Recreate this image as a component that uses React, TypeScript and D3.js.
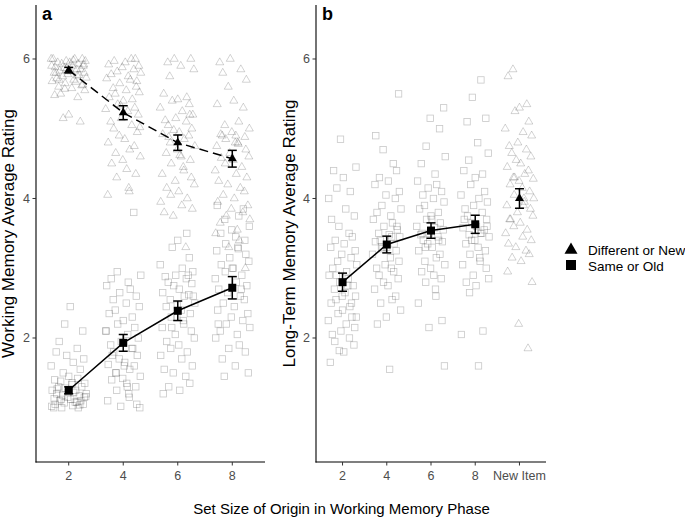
import React from 'react';
import * as d3 from 'd3';

const WM_CATS = ['2', '4', '6', '8'];
const LT_CATS = ['2', '4', '6', '8', 'New Item'];
const Y_TICKS = [2, 4, 6];

// jitter offsets (fraction of category step), hand typed
const JITTER = [0.12,-0.31,0.27,-0.05,0.33,-0.22,0.02,-0.14,0.19,-0.34,0.08,0.29,-0.27,-0.09,0.16,0.24,-0.18,0.04,-0.29,0.31,-0.02,0.21,-0.12,0.35,-0.24,0.1,-0.33,0.14,-0.07,0.26,-0.2,0.06,0.32,-0.16,-0.28,0.18,0.0,-0.11,0.23,-0.35,0.09,0.3,-0.04,-0.25,0.17,-0.19,0.28,-0.08,0.03,-0.3,0.22,0.13,-0.15,0.34,-0.01,-0.23,0.07,0.25,-0.13,0.11];

// Panel a: individual ratings
const WM_DIFF_2 = [6.0,6.0,6.0,5.97,5.97,5.95,5.95,5.93,5.93,5.9,5.9,5.9,5.88,5.87,5.85,5.85,5.83,5.82,5.8,5.8,5.78,5.77,5.75,5.73,5.72,5.7,5.68,5.67,5.65,5.62,5.6,5.58,5.55,5.5,5.48,5.45,5.2,5.15,5.1,6.0,5.98,5.92,5.86,5.8,5.76,5.7,5.63,5.57];
const WM_SAME_2 = [1.0,1.0,1.02,1.03,1.05,1.05,1.07,1.08,1.1,1.1,1.12,1.13,1.15,1.15,1.17,1.18,1.2,1.2,1.22,1.25,1.25,1.28,1.3,1.3,1.33,1.35,1.38,1.4,1.42,1.45,1.5,1.55,1.6,1.65,1.7,1.75,1.8,1.85,1.95,2.1,2.2,2.45,1.0,1.04,1.08,1.12,1.16,1.22,1.27,1.36];
const WM_DIFF_4 = [6.0,6.0,5.97,5.95,5.92,5.9,5.88,5.85,5.82,5.8,5.78,5.75,5.72,5.7,5.65,5.6,5.58,5.55,5.52,5.5,5.45,5.42,5.4,5.35,5.3,5.28,5.25,5.2,5.15,5.1,5.05,5.0,4.95,4.9,4.85,4.8,4.75,4.7,4.65,4.6,4.55,4.5,4.42,4.35,4.3,4.15,4.1,4.05,5.68,5.33,5.02];
const WM_SAME_4 = [3.8,2.95,2.9,2.85,2.8,2.75,2.7,2.65,2.6,2.55,2.5,2.45,2.4,2.35,2.3,2.25,2.2,2.15,2.1,2.05,2.0,1.95,1.9,1.85,1.8,1.75,1.7,1.65,1.62,1.6,1.55,1.5,1.45,1.42,1.4,1.35,1.3,1.25,1.2,1.15,1.1,1.05,1.02,1.0,1.75,1.6,1.5,1.85,2.1,1.3];
const WM_DIFF_6 = [6.0,6.0,5.95,5.9,5.85,5.75,5.5,5.45,5.42,5.4,5.35,5.3,5.25,5.2,5.15,5.12,5.1,5.05,5.0,4.98,4.95,4.92,4.9,4.85,4.8,4.75,4.7,4.65,4.6,4.55,4.5,4.45,4.4,4.35,4.3,4.25,4.2,4.15,4.1,4.05,4.0,3.95,3.9,3.85,3.8,3.75,3.3,5.2,4.88,4.62];
const WM_SAME_6 = [3.5,3.4,3.3,3.15,3.05,3.0,2.95,2.9,2.88,2.85,2.8,2.78,2.75,2.7,2.65,2.62,2.6,2.55,2.5,2.47,2.45,2.4,2.35,2.3,2.25,2.2,2.15,2.1,2.05,2.0,1.95,1.9,1.85,1.8,1.75,1.7,1.6,1.55,1.5,1.45,1.35,1.3,1.25,1.2,2.6,2.3,2.9,2.15];
const WM_DIFF_8 = [6.0,5.95,5.85,5.8,5.7,5.6,5.4,5.35,5.3,5.1,5.05,5.0,4.95,4.92,4.9,4.88,4.85,4.8,4.78,4.75,4.7,4.65,4.6,4.58,4.55,4.5,4.45,4.4,4.35,4.3,4.25,4.2,4.15,4.1,4.05,4.0,3.95,3.9,3.85,3.8,3.75,3.7,3.65,3.55,3.5,3.4,3.3,3.0,4.9,4.8];
const WM_SAME_8 = [3.9,3.85,3.75,3.7,3.6,3.55,3.5,3.45,3.4,3.35,3.3,3.28,3.25,3.2,3.15,3.1,3.05,3.0,2.95,2.9,2.85,2.8,2.75,2.7,2.65,2.6,2.55,2.5,2.45,2.4,2.35,2.3,2.25,2.2,2.15,2.1,2.05,2.0,1.9,1.85,1.8,1.7,1.6,1.5,1.45,2.2,2.7,3.0];

// Panel b: individual ratings
const LT_SAME_2 = [4.85,4.45,4.4,4.3,4.15,4.1,4.0,3.85,3.75,3.7,3.6,3.5,3.45,3.4,3.35,3.3,3.25,3.2,3.15,3.1,3.05,3.0,2.95,2.9,2.85,2.8,2.75,2.7,2.65,2.6,2.55,2.5,2.45,2.4,2.35,2.3,2.25,2.2,2.15,2.1,2.05,2.0,1.95,1.9,1.82,1.8,1.65,2.5,2.75,2.9,2.3,2.6];
const LT_SAME_4 = [5.5,4.9,4.7,4.5,4.4,4.3,4.25,4.2,4.1,4.05,4.0,3.9,3.85,3.8,3.75,3.7,3.65,3.6,3.55,3.5,3.48,3.45,3.4,3.38,3.35,3.3,3.28,3.25,3.2,3.15,3.1,3.05,3.0,2.95,2.9,2.85,2.8,2.75,2.7,2.6,2.55,2.5,2.4,2.3,2.2,1.55,3.6,3.3,3.0,3.45];
const LT_SAME_6 = [5.3,5.15,5.0,4.75,4.6,4.5,4.35,4.25,4.2,4.15,4.1,4.05,4.0,3.95,3.9,3.85,3.8,3.75,3.7,3.65,3.6,3.58,3.55,3.5,3.48,3.45,3.4,3.38,3.35,3.3,3.25,3.2,3.15,3.1,3.05,3.0,2.95,2.9,2.85,2.8,2.7,2.6,2.5,2.25,2.15,1.6,3.5,3.7,3.3,3.4];
const LT_SAME_8 = [5.7,5.45,5.15,5.1,4.8,4.65,4.55,4.4,4.35,4.3,4.2,4.1,4.05,4.0,3.95,3.9,3.85,3.8,3.75,3.7,3.65,3.6,3.58,3.55,3.5,3.48,3.45,3.4,3.35,3.3,3.25,3.2,3.15,3.1,3.05,3.0,2.9,2.85,2.8,2.75,2.65,2.1,2.05,1.6,3.6,3.7,3.4,3.5];
const LT_NEW = [5.85,5.75,5.35,5.3,5.25,5.1,5.0,4.95,4.9,4.8,4.75,4.7,4.65,4.6,4.55,4.5,4.45,4.4,4.35,4.3,4.28,4.25,4.2,4.15,4.1,4.05,4.0,3.95,3.9,3.85,3.8,3.75,3.7,3.65,3.6,3.55,3.5,3.45,3.4,3.35,3.3,3.25,3.2,3.15,3.1,2.95,2.8,2.2,1.85,4.3,4.0,3.7,3.9];

// Means and error bar half-widths
const WM_DIFF_MEAN = [5.84, 5.23, 4.80, 4.57];
const WM_DIFF_ERR = [0.04, 0.10, 0.11, 0.12];
const WM_SAME_MEAN = [1.25, 1.93, 2.39, 2.72];
const WM_SAME_ERR = [0.05, 0.12, 0.14, 0.16];
const LT_SAME_MEAN = [2.80, 3.34, 3.54, 3.63];
const LT_SAME_ERR = [0.13, 0.12, 0.11, 0.13];
const LT_NEW_MEAN = [4.0];
const LT_NEW_ERR = [0.14];

const LEGEND = ['Different or New', 'Same or Old'];

const FONT = "'Liberation Sans', Arial, Helvetica, sans-serif";

function triPath(cx: number, cy: number, w: number) {
  const h = w * 0.866;
  return `M${cx},${cy - (h * 2) / 3}L${cx - w / 2},${cy + h / 3}L${cx + w / 2},${cy + h / 3}Z`;
}

export default function App() {
  const y = d3.scaleLinear().domain([0.222, 6.774]).range([462, 5]);
  const xa = d3.scalePoint<string>().domain(WM_CATS).range([36, 265]).padding(0.6);
  const xb = d3.scalePoint<string>().domain(LT_CATS).range([316, 546]).padding(0.6);

  const scatter = [
    { x: xa, cat: '2', vals: WM_DIFF_2, shape: 'tri', seed: 0, jw: 0.92 },
    { x: xa, cat: '2', vals: WM_SAME_2, shape: 'sq', seed: 7, jw: 0.92 },
    { x: xa, cat: '4', vals: WM_DIFF_4, shape: 'tri', seed: 14, jw: 0.92 },
    { x: xa, cat: '4', vals: WM_SAME_4, shape: 'sq', seed: 21, jw: 0.92 },
    { x: xa, cat: '6', vals: WM_DIFF_6, shape: 'tri', seed: 28, jw: 0.92 },
    { x: xa, cat: '6', vals: WM_SAME_6, shape: 'sq', seed: 35, jw: 0.92 },
    { x: xa, cat: '8', vals: WM_DIFF_8, shape: 'tri', seed: 42, jw: 0.92 },
    { x: xa, cat: '8', vals: WM_SAME_8, shape: 'sq', seed: 49, jw: 0.92 },
    { x: xb, cat: '2', vals: LT_SAME_2, shape: 'sq', seed: 3, jw: 0.92 },
    { x: xb, cat: '4', vals: LT_SAME_4, shape: 'sq', seed: 11, jw: 0.92 },
    { x: xb, cat: '6', vals: LT_SAME_6, shape: 'sq', seed: 19, jw: 0.92 },
    { x: xb, cat: '8', vals: LT_SAME_8, shape: 'sq', seed: 27, jw: 0.92 },
    { x: xb, cat: 'New Item', vals: LT_NEW, shape: 'tri', seed: 33, jw: 0.92 },
  ];

  const summaries = [
    { x: xa, cats: WM_CATS, mean: WM_DIFF_MEAN, err: WM_DIFF_ERR, shape: 'tri', dash: '9,5' },
    { x: xa, cats: WM_CATS, mean: WM_SAME_MEAN, err: WM_SAME_ERR, shape: 'sq', dash: undefined },
    { x: xb, cats: LT_CATS.slice(0, 4), mean: LT_SAME_MEAN, err: LT_SAME_ERR, shape: 'sq', dash: undefined },
    { x: xb, cats: ['New Item'], mean: LT_NEW_MEAN, err: LT_NEW_ERR, shape: 'tri', dash: undefined },
  ];

  const panels = [
    { x: xa, cats: WM_CATS, left: 36, right: 265, label: 'a', title: 'Working Memory Average Rating', titleX: 14 },
    { x: xb, cats: LT_CATS, left: 316, right: 546, label: 'b', title: 'Long-Term Memory Average Rating', titleX: 295 },
  ];

  const yTop = y.range()[1];
  const yBot = y.range()[0];

  return (
    <svg width={685} height={517} style={{ position: 'absolute', left: 0, top: 0, background: '#fff' }} fontFamily={FONT}>
      <rect x={0} y={0} width={685} height={517} fill="#fff" />
      {/* scatter */}
      {scatter.map((g, gi) => {
        const step = g.x.step();
        const cx0 = g.x(g.cat) as number;
        return (
          <g key={gi} fill="none" stroke="#000" strokeOpacity={0.22} strokeWidth={0.8}>
            {g.vals.map((v, i) => {
              const cx = cx0 + JITTER[(i + g.seed) % JITTER.length] * step * g.jw;
              const cy = y(v);
              return g.shape === 'tri' ? (
                <path key={i} d={triPath(cx, cy, 8)} />
              ) : (
                <rect key={i} x={cx - 3.2} y={cy - 3.2} width={6.4} height={6.4} />
              );
            })}
          </g>
        );
      })}
      {/* summaries */}
      {summaries.map((s, si) => {
        const pts = s.cats.map((c, i) => [s.x(c) as number, y(s.mean[i])] as [number, number]);
        const line = d3.line();
        return (
          <g key={si}>
            {pts.length > 1 && (
              <path d={line(pts) || ''} fill="none" stroke="#000" strokeWidth={1.5} strokeDasharray={s.dash} />
            )}
            {s.cats.map((c, i) => {
              const cx = s.x(c) as number;
              const y1 = y(s.mean[i] + s.err[i]);
              const y2 = y(s.mean[i] - s.err[i]);
              return (
                <g key={c} stroke="#000" strokeWidth={1.5}>
                  <line x1={cx} x2={cx} y1={y1} y2={y2} />
                  <line x1={cx - 4.5} x2={cx + 4.5} y1={y1} y2={y1} />
                  <line x1={cx - 4.5} x2={cx + 4.5} y1={y2} y2={y2} />
                </g>
              );
            })}
            {pts.map((p, i) =>
              s.shape === 'tri' ? (
                <path key={i} d={triPath(p[0], p[1], 9)} fill="#000" />
              ) : (
                <rect key={i} x={p[0] - 4} y={p[1] - 4} width={8} height={8} fill="#000" />
              )
            )}
          </g>
        );
      })}
      {/* axes */}
      {panels.map((p) => (
        <g key={p.label}>
          <line x1={p.left} x2={p.left} y1={yTop} y2={yBot + 0.5} stroke="#000" strokeWidth={1.1} />
          <line x1={p.left - 0.5} x2={p.right} y1={yBot} y2={yBot} stroke="#000" strokeWidth={1.1} />
          {Y_TICKS.map((t) => (
            <g key={t}>
              <line x1={p.left - 3.5} x2={p.left} y1={y(t)} y2={y(t)} stroke="#333" strokeWidth={1} />
              <text x={p.left - 6} y={y(t)} dy="0.35em" textAnchor="end" fontSize={12.5} fill="#4d4d4d">
                {t}
              </text>
            </g>
          ))}
          {p.cats.map((c) => (
            <g key={c}>
              <line x1={p.x(c) as number} x2={p.x(c) as number} y1={yBot} y2={yBot + 3.5} stroke="#333" strokeWidth={1} />
              <text x={p.x(c) as number} y={480} textAnchor="middle" fontSize={12.5} fill="#4d4d4d">
                {c}
              </text>
            </g>
          ))}
          <text x={p.left + 6} y={20} fontSize={18} fontWeight="bold" fill="#000">
            {p.label}
          </text>
          <text
            transform={`translate(${p.titleX},${(yTop + yBot) / 2}) rotate(-90)`}
            textAnchor="middle"
            fontSize={17}
            fill="#000"
          >
            {p.title}
          </text>
        </g>
      ))}
      <text x={341.5} y={514} textAnchor="middle" fontSize={15} fill="#000">
        Set Size of Origin in Working Memory Phase
      </text>
      {/* legend */}
      <g>
        <path d={triPath(571, 250, 13)} fill="#000" />
        <text x={588} y={255} fontSize={13.5} fill="#000">{LEGEND[0]}</text>
        <rect x={566} y={260} width={10} height={10} fill="#000" />
        <text x={588} y={270.5} fontSize={13.5} fill="#000">{LEGEND[1]}</text>
      </g>
    </svg>
  );
}
